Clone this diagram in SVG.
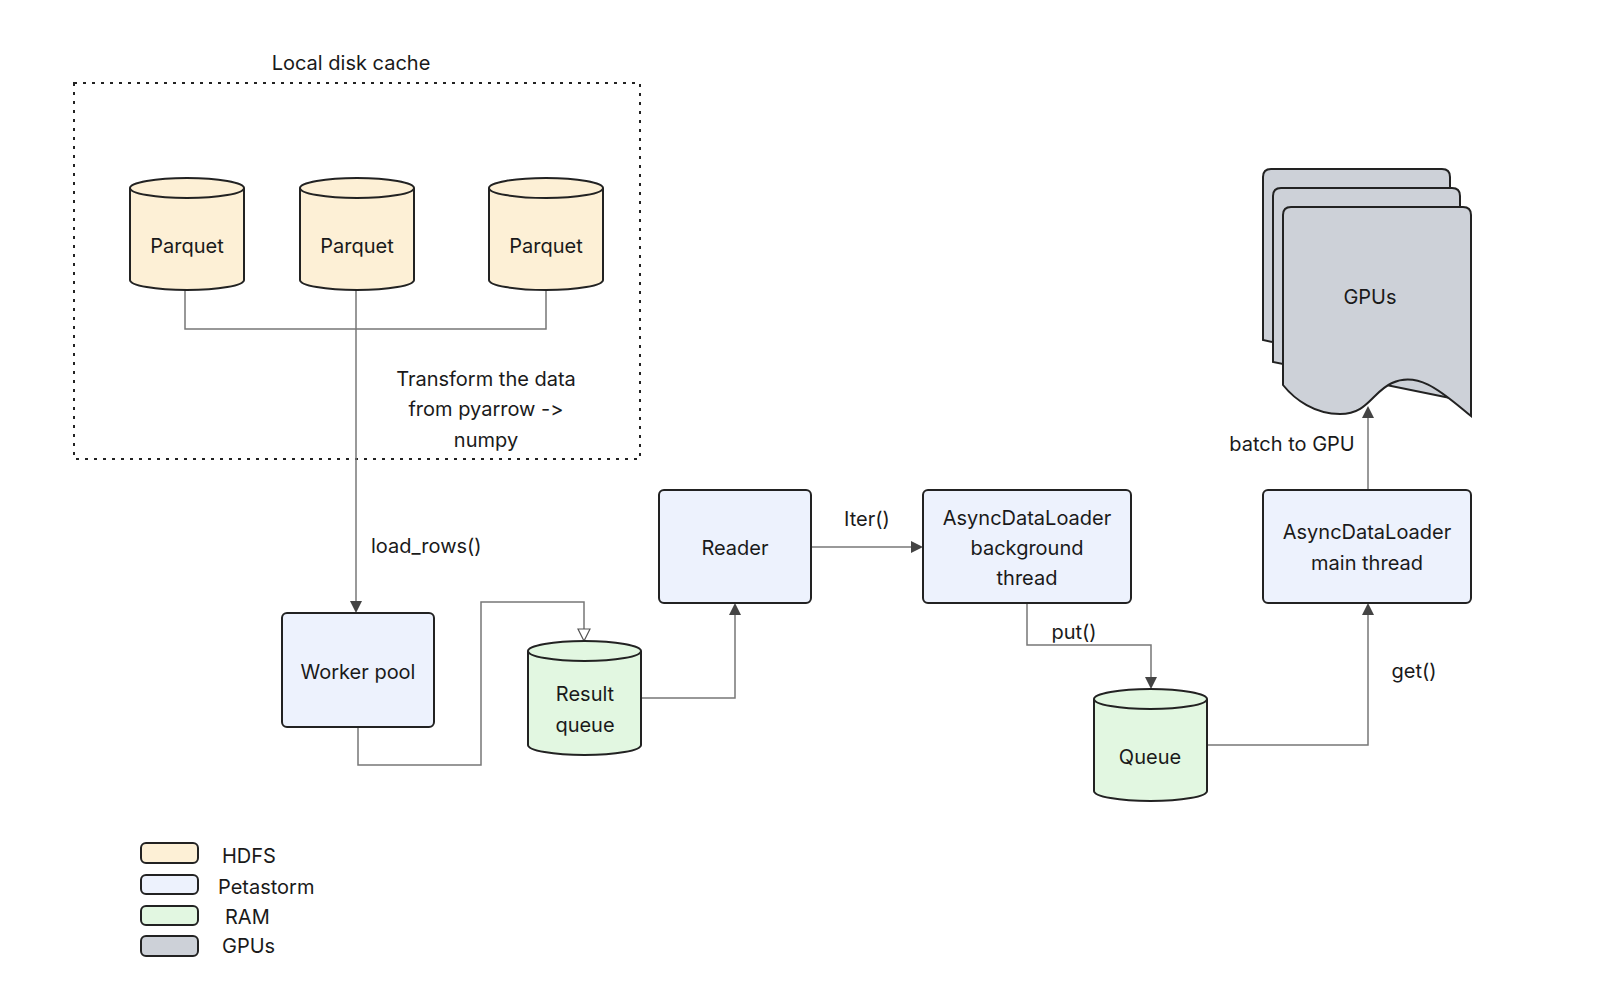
<svg xmlns="http://www.w3.org/2000/svg" width="1600" height="1002" viewBox="0 0 1600 1002">
<style>
text{font-family:Inter,"Noto Sans",sans-serif;font-size:20px;fill:#1a1a1a;text-anchor:middle;dominant-baseline:middle;font-feature-settings:"calt" 0,"liga" 0}
.l{text-anchor:start}
.box{fill:#edf2fd;stroke:#222;stroke-width:2}
.hd{fill:#fdf0d6;stroke:#222;stroke-width:2}
.ram{fill:#e2f7e1;stroke:#222;stroke-width:2}
.gpu{fill:#cdd1d8;stroke:#222;stroke-width:2}
.c{fill:none;stroke:#777;stroke-width:1.5}
</style>
<defs>
<marker id="a" markerWidth="12" markerHeight="12" refX="10" refY="6" orient="auto" markerUnits="userSpaceOnUse"><path d="M0,0 L12,6 L0,12 Z" fill="#444"/></marker>
<marker id="h" markerWidth="14" markerHeight="14" refX="12" refY="7" orient="auto" markerUnits="userSpaceOnUse"><path d="M1,1 L13,7 L1,13 Z" fill="#fff" stroke="#555" stroke-width="1.2"/></marker>
</defs>
<g id="cache"><rect x="74" y="83" width="566" height="376" fill="none" stroke="#222" stroke-width="2" stroke-dasharray="3,6"/><text x="351" y="65">Local disk cache</text></g>
<g id="connectors">
<path class="c" d="M185,290 V329 H546 V290 M356,290 V329"/>
<path class="c" d="M356,329 V611" marker-end="url(#a)" stroke="#444"/>
<path class="c" d="M358,727 V765 H481 V602 H584 V640" marker-end="url(#h)"/>
<path class="c" d="M641,698 H735 V605" marker-end="url(#a)"/>
<path class="c" d="M811,547 H921" marker-end="url(#a)"/>
<path class="c" d="M1027,603 V645 H1151 V687" marker-end="url(#a)"/>
<path class="c" d="M1207,745 H1368 V605" marker-end="url(#a)"/>
<path class="c" d="M1368,490 V408" marker-end="url(#a)"/>
<text x="486" y="381">Transform the data</text><text x="486" y="411">from pyarrow -&gt;</text><text x="486" y="442">numpy</text>
<text x="371" y="548" class="l">load_rows()</text>
<text x="867" y="521">Iter()</text>
<text x="1074" y="634">put()</text>
<text x="1414" y="673">get()</text>
<text x="1292" y="446">batch to GPU</text>
</g>
<g id="p1"><path class="hd" d="M130,188 A57,10 0 0 1 244,188 V280 A57,10 0 0 1 130,280 Z"/><path class="hd" d="M130,188 A57,10 0 0 0 244,188"/><text x="187" y="248">Parquet</text></g>
<g id="p2"><path class="hd" d="M300,188 A57,10 0 0 1 414,188 V280 A57,10 0 0 1 300,280 Z"/><path class="hd" d="M300,188 A57,10 0 0 0 414,188"/><text x="357" y="248">Parquet</text></g>
<g id="p3"><path class="hd" d="M489,188 A57,10 0 0 1 603,188 V280 A57,10 0 0 1 489,280 Z"/><path class="hd" d="M489,188 A57,10 0 0 0 603,188"/><text x="546" y="248">Parquet</text></g>
<g id="worker"><rect class="box" x="282" y="613" width="152" height="114" rx="5"/><text x="358" y="674">Worker pool</text></g>
<g id="resultq"><path class="ram" d="M528,651 A56.5,10 0 0 1 641,651 V745 A56.5,10 0 0 1 528,745 Z"/><path class="ram" d="M528,651 A56.5,10 0 0 0 641,651"/><text x="585" y="696">Result</text><text x="585" y="727">queue</text></g>
<g id="reader"><rect class="box" x="659" y="490" width="152" height="113" rx="5"/><text x="735" y="550">Reader</text></g>
<g id="bg"><rect class="box" x="923" y="490" width="208" height="113" rx="5"/><text x="1027" y="520">AsyncDataLoader</text><text x="1027" y="550">background</text><text x="1027" y="580">thread</text></g>
<g id="queue"><path class="ram" d="M1094,699 A56.5,10 0 0 1 1207,699 V791 A56.5,10 0 0 1 1094,791 Z"/><path class="ram" d="M1094,699 A56.5,10 0 0 0 1207,699"/><text x="1150" y="759">Queue</text></g>
<g id="main"><rect class="box" x="1263" y="490" width="208" height="113" rx="5"/><text x="1367" y="534">AsyncDataLoader</text><text x="1367" y="565">main thread</text></g>
<g id="gpus">
<path class="gpu" d="M1263,177 q0,-8 8,-8 H1442 q8,0 8,8 V380 L1263,340 Z"/>
<path class="gpu" d="M1273,196 q0,-8 8,-8 H1452 q8,0 8,8 V400 L1273,362 Z"/>
<path class="gpu" d="M1283,215 q0,-8 8,-8 H1463 q8,0 8,8 V416 C1445,395 1420,370 1392,383 C1372,392 1368,414 1340,414 C1315,414 1295,400 1283,385 Z"/>
<text x="1370" y="299">GPUs</text></g>
<g id="legend">
<rect class="hd" x="141" y="843" width="57" height="20" rx="5"/><text class="l" x="222" y="858">HDFS</text>
<rect class="box" x="141" y="875" width="57" height="19" rx="5"/><text class="l" x="218" y="889">Petastorm</text>
<rect class="ram" x="141" y="906" width="57" height="19" rx="5"/><text class="l" x="225" y="919">RAM</text>
<rect class="gpu" x="141" y="936" width="57" height="20" rx="5"/><text class="l" x="222" y="948">GPUs</text>
</g>
</svg>
